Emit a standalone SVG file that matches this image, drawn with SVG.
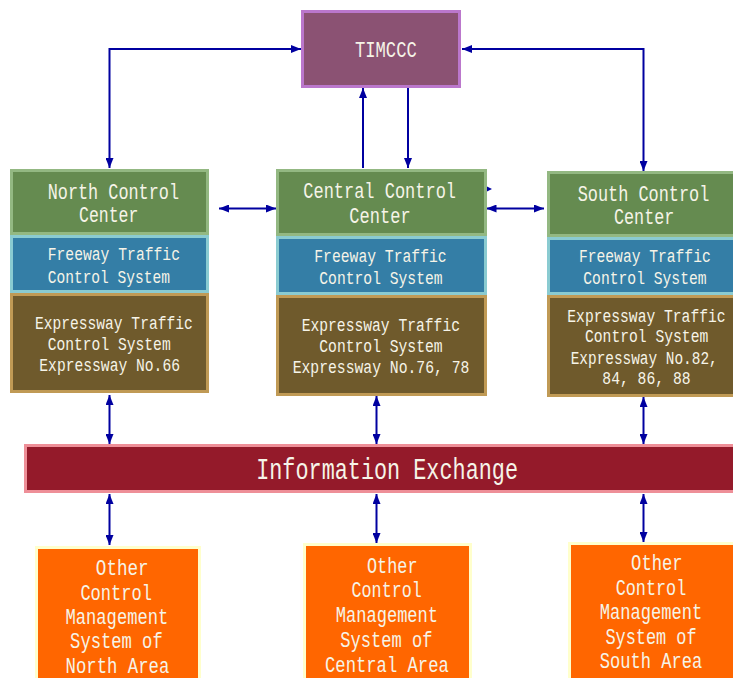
<svg xmlns="http://www.w3.org/2000/svg" width="733" height="678" viewBox="0 0 733 678">
  <defs>
    <style>
      text { font-family: "Liberation Mono", "DejaVu Sans Mono", monospace; fill: #f6f4e8; }
      .t20 { font-size: 22px; }
      .t18 { font-size: 18.5px; }
      .t26 { font-size: 29px; }
      .hub { fill: #8b5273; stroke: #bb77cc; stroke-width: 3; }
      .ctr { fill: #658b50; stroke: #93b882; stroke-width: 3; }
      .fwy { fill: #347ea6; stroke: #8acbd1; stroke-width: 3; }
      .exp { fill: #6f5a2c; stroke: #c09a55; stroke-width: 3; }
      .info { fill: #941a2a; stroke: #ee8f98; stroke-width: 3; }
      .other { fill: #ff6600; stroke: #ffffcc; stroke-width: 3; }
      .link { fill: none; stroke: #0000a0; stroke-width: 2; }
    </style>
    <marker id="arrow" viewBox="0 0 10 8" refX="10" refY="4" markerWidth="10" markerHeight="8" markerUnits="userSpaceOnUse" orient="auto-start-reverse">
      <path d="M0,0 L10,4 L0,8 z" fill="#0000a0"/>
    </marker>
  </defs>

  <!-- connectors -->
  <g id="connectors">
    <path class="link" d="M109.5,168 V49 H301" marker-start="url(#arrow)" marker-end="url(#arrow)"/>
    <path class="link" d="M462,49 H643.5 V171" marker-start="url(#arrow)" marker-end="url(#arrow)"/>
    <path class="link" d="M363,168 V88" marker-end="url(#arrow)"/>
    <path class="link" d="M408,88 V168" marker-end="url(#arrow)"/>
    <path class="link" d="M219,208.5 H276" marker-start="url(#arrow)" marker-end="url(#arrow)"/>
    <path class="link" d="M486.5,208.5 H544" marker-start="url(#arrow)" marker-end="url(#arrow)"/>
    <path d="M486,186 L492,189 L486,192 z" fill="#0000a0"/>
    <path class="link" d="M109.5,395 V444" marker-start="url(#arrow)" marker-end="url(#arrow)"/>
    <path class="link" d="M109.5,494 V545" marker-start="url(#arrow)" marker-end="url(#arrow)"/>
    <path class="link" d="M376.5,396 V444" marker-start="url(#arrow)" marker-end="url(#arrow)"/>
    <path class="link" d="M376.5,494 V543" marker-start="url(#arrow)" marker-end="url(#arrow)"/>
    <path class="link" d="M643.5,397 V444" marker-start="url(#arrow)" marker-end="url(#arrow)"/>
    <path class="link" d="M643.5,494 V542" marker-start="url(#arrow)" marker-end="url(#arrow)"/>
  </g>

  <g id="timccc">
    <rect class="hub" x="302.5" y="11.5" width="157" height="75"/>
    <text class="t20" x="355" y="57.3" textLength="61.7" lengthAdjust="spacingAndGlyphs">TIMCCC</text>
  </g>

  <!-- North area -->
  <g id="north-center">
    <rect class="ctr" x="11.5" y="170.5" width="196" height="63"/>
    <text class="t20" x="47.7" y="199" textLength="131.3" lengthAdjust="spacingAndGlyphs">North Control</text>
    <text class="t20" x="79" y="222" textLength="59.3" lengthAdjust="spacingAndGlyphs">Center</text>
  </g>
  <g id="north-freeway">
    <rect class="fwy" x="11.5" y="236.5" width="196" height="55"/>
    <text class="t18" x="47.7" y="260" textLength="132.3" lengthAdjust="spacingAndGlyphs">Freeway Traffic</text>
    <text class="t18" x="47.7" y="282.7" textLength="122.3" lengthAdjust="spacingAndGlyphs">Control System</text>
  </g>
  <g id="north-expressway">
    <rect class="exp" x="11.5" y="294.5" width="196" height="97"/>
    <text class="t18" x="35" y="329" textLength="157.7" lengthAdjust="spacingAndGlyphs">Expressway Traffic</text>
    <text class="t18" x="47.7" y="350" textLength="123" lengthAdjust="spacingAndGlyphs">Control System</text>
    <text class="t18" x="39.3" y="371" textLength="140.7" lengthAdjust="spacingAndGlyphs">Expressway No.66</text>
  </g>

  <!-- Central area -->
  <g id="central-center">
    <rect class="ctr" x="277.5" y="170.5" width="208" height="64"/>
    <text class="t20" x="303.3" y="197.7" textLength="152.7" lengthAdjust="spacingAndGlyphs">Central Control</text>
    <text class="t20" x="349.3" y="222.7" textLength="61.3" lengthAdjust="spacingAndGlyphs">Center</text>
  </g>
  <g id="central-freeway">
    <rect class="fwy" x="277.5" y="237.5" width="208" height="56"/>
    <text class="t18" x="314.3" y="262.3" textLength="132.3" lengthAdjust="spacingAndGlyphs">Freeway Traffic</text>
    <text class="t18" x="319.3" y="284" textLength="123.3" lengthAdjust="spacingAndGlyphs">Control System</text>
  </g>
  <g id="central-expressway">
    <rect class="exp" x="277.5" y="296.5" width="208" height="98"/>
    <text class="t18" x="301.7" y="330.7" textLength="158.3" lengthAdjust="spacingAndGlyphs">Expressway Traffic</text>
    <text class="t18" x="319.3" y="352" textLength="123.3" lengthAdjust="spacingAndGlyphs">Control System</text>
    <text class="t18" x="292.7" y="373.3" textLength="176.7" lengthAdjust="spacingAndGlyphs">Expressway No.76, 78</text>
  </g>

  <!-- South area -->
  <g id="south-center">
    <rect class="ctr" x="548.5" y="172.5" width="200" height="63"/>
    <text class="t20" x="577.7" y="200.7" textLength="131.7" lengthAdjust="spacingAndGlyphs">South Control</text>
    <text class="t20" x="614" y="224" textLength="60.3" lengthAdjust="spacingAndGlyphs">Center</text>
  </g>
  <g id="south-freeway">
    <rect class="fwy" x="548.5" y="238.5" width="200" height="55"/>
    <text class="t18" x="579" y="261.7" textLength="131.7" lengthAdjust="spacingAndGlyphs">Freeway Traffic</text>
    <text class="t18" x="583.3" y="284" textLength="123.3" lengthAdjust="spacingAndGlyphs">Control System</text>
  </g>
  <g id="south-expressway">
    <rect class="exp" x="548.5" y="296.5" width="200" height="99"/>
    <text class="t18" x="567.3" y="321.7" textLength="158.3" lengthAdjust="spacingAndGlyphs">Expressway Traffic</text>
    <text class="t18" x="585" y="341.7" textLength="123.3" lengthAdjust="spacingAndGlyphs">Control System</text>
    <text class="t18" x="570.7" y="364.3" textLength="147" lengthAdjust="spacingAndGlyphs">Expressway No.82,</text>
    <text class="t18" x="602.3" y="384" textLength="88.3" lengthAdjust="spacingAndGlyphs">84, 86, 88</text>
  </g>

  <!-- shared exchange bus -->
  <g id="information-exchange">
    <rect class="info" x="25.5" y="445.5" width="730" height="46"/>
    <text class="t26" x="256.2" y="479.3" textLength="261.8" lengthAdjust="spacingAndGlyphs">Information Exchange</text>
  </g>

  <!-- other management systems -->
  <g id="north-other">
    <rect class="other" x="36.5" y="547.5" width="163" height="150"/>
    <text class="t20" x="95.8" y="575" textLength="52.9" lengthAdjust="spacingAndGlyphs">Other</text>
    <text class="t20" x="80.4" y="600" textLength="71.6" lengthAdjust="spacingAndGlyphs">Control</text>
    <text class="t20" x="65.5" y="624" textLength="102.8" lengthAdjust="spacingAndGlyphs">Management</text>
    <text class="t20" x="70.1" y="648.3" textLength="92.6" lengthAdjust="spacingAndGlyphs">System of</text>
    <text class="t20" x="65.5" y="673.3" textLength="103.8" lengthAdjust="spacingAndGlyphs">North Area</text>
  </g>
  <g id="central-other">
    <rect class="other" x="304.5" y="544.5" width="166" height="150"/>
    <text class="t20" x="367" y="572.7" textLength="50.5" lengthAdjust="spacingAndGlyphs">Other</text>
    <text class="t20" x="351.6" y="596.7" textLength="70.1" lengthAdjust="spacingAndGlyphs">Control</text>
    <text class="t20" x="335.7" y="621.7" textLength="102.4" lengthAdjust="spacingAndGlyphs">Management</text>
    <text class="t20" x="340.3" y="646.7" textLength="92.1" lengthAdjust="spacingAndGlyphs">System of</text>
    <text class="t20" x="325" y="671.7" textLength="123.8" lengthAdjust="spacingAndGlyphs">Central Area</text>
  </g>
  <g id="south-other">
    <rect class="other" x="569.5" y="543.5" width="180" height="150"/>
    <text class="t20" x="631.1" y="570" textLength="51.5" lengthAdjust="spacingAndGlyphs">Other</text>
    <text class="t20" x="615.7" y="595" textLength="70.6" lengthAdjust="spacingAndGlyphs">Control</text>
    <text class="t20" x="599.8" y="619.3" textLength="102.4" lengthAdjust="spacingAndGlyphs">Management</text>
    <text class="t20" x="605.4" y="644.3" textLength="91.2" lengthAdjust="spacingAndGlyphs">System of</text>
    <text class="t20" x="599.8" y="668.3" textLength="102.4" lengthAdjust="spacingAndGlyphs">South Area</text>
  </g>
</svg>
